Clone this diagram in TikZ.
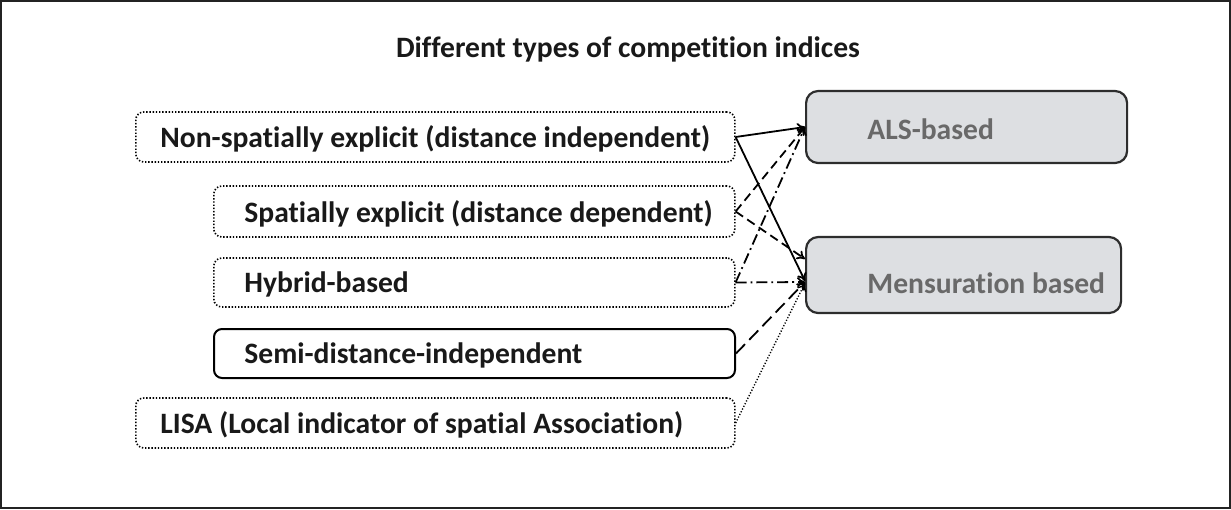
\documentclass[tikz,border=0pt]{standalone}
\usepackage{fontspec}
\setmainfont{Carlito}[Ligatures=NoCommon]
\usetikzlibrary{arrows.meta,positioning}
\definecolor{frameline}{RGB}{35,35,35}
\definecolor{boxline}{RGB}{45,45,45}
\definecolor{methodfill}{RGB}{221,223,226}
\definecolor{methodtext}{RGB}{105,105,105}
\definecolor{indextext}{RGB}{25,25,25}
\tikzset{
  every node/.style={font=\fontsize{14.8}{17}\selectfont\bfseries, text=indextext},
  indexbox/.style={draw=black, rounded corners=4pt, minimum height=25pt, inner sep=0pt, anchor=west, line width=0.8pt, dash pattern=on 0.7pt off 0.9pt},
  solidbox/.style={indexbox, solid, line width=1pt},
  methodbox/.style={draw=boxline, fill=methodfill, rounded corners=6pt, line width=1.1pt, inner sep=0pt, anchor=west},
  intext/.style={anchor=west, xshift=#1, yshift=-1pt, inner sep=0pt},
  link/.style={line width=0.9pt, -{To[length=4pt,width=5pt]}},
  dashlink/.style={link, dash pattern=on 4.5pt off 2.5pt},
  dotdashlink/.style={link, dash pattern=on 5.5pt off 2pt on 0.9pt off 2pt},
  longdashlink/.style={link, dash pattern=on 6.5pt off 3pt},
  dotlink/.style={link, line width=0.7pt, dash pattern=on 0.6pt off 0.9pt}
}

\begin{document}
\begin{tikzpicture}[x=0.5pt, y=-0.5pt]
    \useasboundingbox (0,0) rectangle (1231,509);
    \draw[frameline, line width=1.2pt] (1,1) rectangle (1230,508);

    \node (title) at (628,49) {Different types of competition indices};

    \node[indexbox, minimum width=299.5pt, label={[intext=12.5pt]west:{Non-spatially explicit (distance independent)}}] (nonsp) at (135,137) {};
    \node[indexbox, minimum width=260.5pt, minimum height=25.5pt, label={[intext=15.5pt]west:{Spatially explicit (distance dependent)}}] (spat) at (213,211.5) {};
    \node[indexbox, minimum width=260.5pt, minimum height=24.5pt, label={[intext=15.5pt]west:{Hybrid-based}}] (hyb) at (213,282.5) {};
    \node[solidbox, minimum width=260.5pt, minimum height=24.5pt, label={[intext=15.5pt]west:{Semi-distance-independent}}] (semi) at (213,353.5) {};
    \node[indexbox, minimum width=299.5pt, label={[intext=12.5pt]west:{LISA (Local indicator of spatial Association)}}] (lisa) at (135,423) {};

    \node[methodbox, minimum width=160.5pt, minimum height=36pt, label={[intext=31pt, text=methodtext]west:{ALS-based}}] (als) at (805,127) {};
    \node[methodbox, minimum width=157.5pt, minimum height=38pt, label={[intext=31pt, yshift=-3pt, text=methodtext]west:{Mensuration based}}] (mens) at (805,275) {};

    \draw[link] (nonsp.east) -- (als.west);
    \draw[link] (nonsp.east) -- ([yshift=-3pt]mens.west);
    \draw[dashlink] (spat.east) -- (als.west);
    \draw[dashlink] (spat.east) -- ([yshift=8pt]mens.west);
    \draw[dotdashlink] (hyb.east) -- (als.west);
    \draw[dotdashlink] (hyb.east) -- ([yshift=-3.5pt]mens.west);
    \draw[longdashlink] (semi.east) -- ([yshift=-3.5pt]mens.west);
    \draw[dotlink] (lisa.east) -- ([yshift=-4pt]mens.west);
\end{tikzpicture}
\end{document}
